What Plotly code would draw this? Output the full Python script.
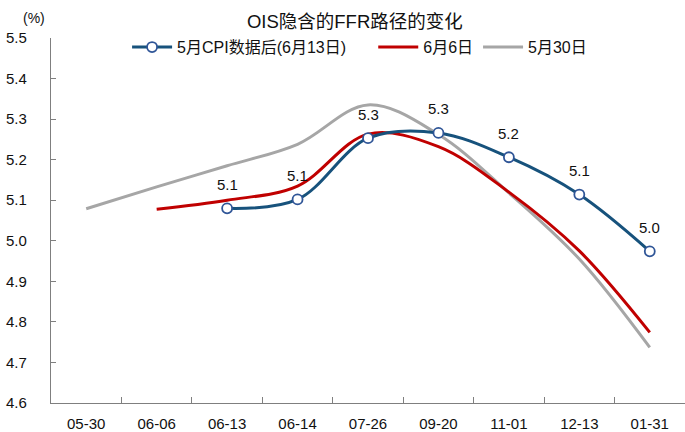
import plotly.graph_objects as go

categories = ["05-30", "06-06", "06-13", "06-14", "07-26", "09-20", "11-01", "12-13", "01-31"]
cpi_x = ["06-13", "06-14", "07-26", "09-20", "11-01", "12-13", "01-31"]
cpi_vals = [5.080, 5.102, 5.253, 5.266, 5.206, 5.114, 4.974]
cpi_labels = ["5.1", "5.1", "5.3", "5.3", "5.2", "5.1", "5.0"]
jun6_x = ["06-06", "06-13", "06-14", "07-26", "09-20", "11-01", "12-13", "01-31"]
jun6_vals = [5.078, 5.100, 5.135, 5.263, 5.232, 5.120, 4.975, 4.774]
may30_x = categories
may30_vals = [5.079, 5.133, 5.185, 5.238, 5.335, 5.262, 5.118, 4.955, 4.737]

font = "Liberation Sans, Arial, Noto Sans CJK SC, sans-serif"

fig = go.Figure()
fig.add_trace(go.Scatter(
    x=may30_x, y=may30_vals, name="5月30日", mode="lines",
    line=dict(color="#A6A6A6", width=3, shape="spline"),
))
fig.add_trace(go.Scatter(
    x=jun6_x, y=jun6_vals, name="6月6日", mode="lines",
    line=dict(color="#C00000", width=3, shape="spline"),
))
fig.add_trace(go.Scatter(
    x=cpi_x, y=cpi_vals, name="5月CPI数据后(6月13日)" + "\u00a0" * 5, mode="lines+markers",
    line=dict(color="#17527C", width=3, shape="spline"),
    marker=dict(symbol="circle", size=10, color="white",
                line=dict(color="#2F5597", width=1.8)),
))

for xv, yv, t in zip(cpi_x, cpi_vals, cpi_labels):
    fig.add_annotation(x=xv, y=yv, text=t, showarrow=False, yshift=24,
                       font=dict(size=15, color="#111111", family=font))

fig.add_annotation(x=0, y=1, xref="paper", yref="paper", xanchor="left", yanchor="bottom",
                   xshift=-30, yshift=10, text="(%)", showarrow=False,
                   font=dict(size=14, color="#111111", family=font))

fig.update_layout(
    width=685, height=432,
    margin=dict(l=51, r=0, t=38, b=29),
    paper_bgcolor="white", plot_bgcolor="white",
    title=dict(text="OIS隐含的FFR路径的变化", x=0.518, xanchor="center", y=0.95, yanchor="middle",
               font=dict(size=18.5, color="#111111", family=font)),
    font=dict(family=font, color="#111111"),
    legend=dict(orientation="h", x=0.12, y=0.975, xanchor="left", yanchor="middle",
                font=dict(size=16, family=font, color="#111111"),
                itemwidth=40,
                traceorder="reversed", bgcolor="rgba(0,0,0,0)"),
    showlegend=True,
)
fig.update_xaxes(type="category", categoryorder="array", categoryarray=categories,
                 range=[-0.5, len(categories) - 0.5],
                 showline=True, linecolor="#7F7F7F", linewidth=1.3,
                 ticks="inside", tickson="boundaries", ticklen=6, tickcolor="#7F7F7F",
                 showgrid=False, tickfont=dict(size=15, family=font, color="#111111"),
                 ticklabelstandoff=7)
fig.update_yaxes(range=[4.6, 5.5], dtick=0.1, tickformat=".1f",
                 showline=True, linecolor="#7F7F7F", linewidth=1.3,
                 ticks="inside", ticklen=5, tickcolor="#7F7F7F",
                 showgrid=False, zeroline=False,
                 tickfont=dict(size=15, family=font, color="#111111"),
                 ticklabelstandoff=20)

fig.write_html("out.html", config={"displayModeBar": False},
               post_script="document.body.style.margin='0';")
